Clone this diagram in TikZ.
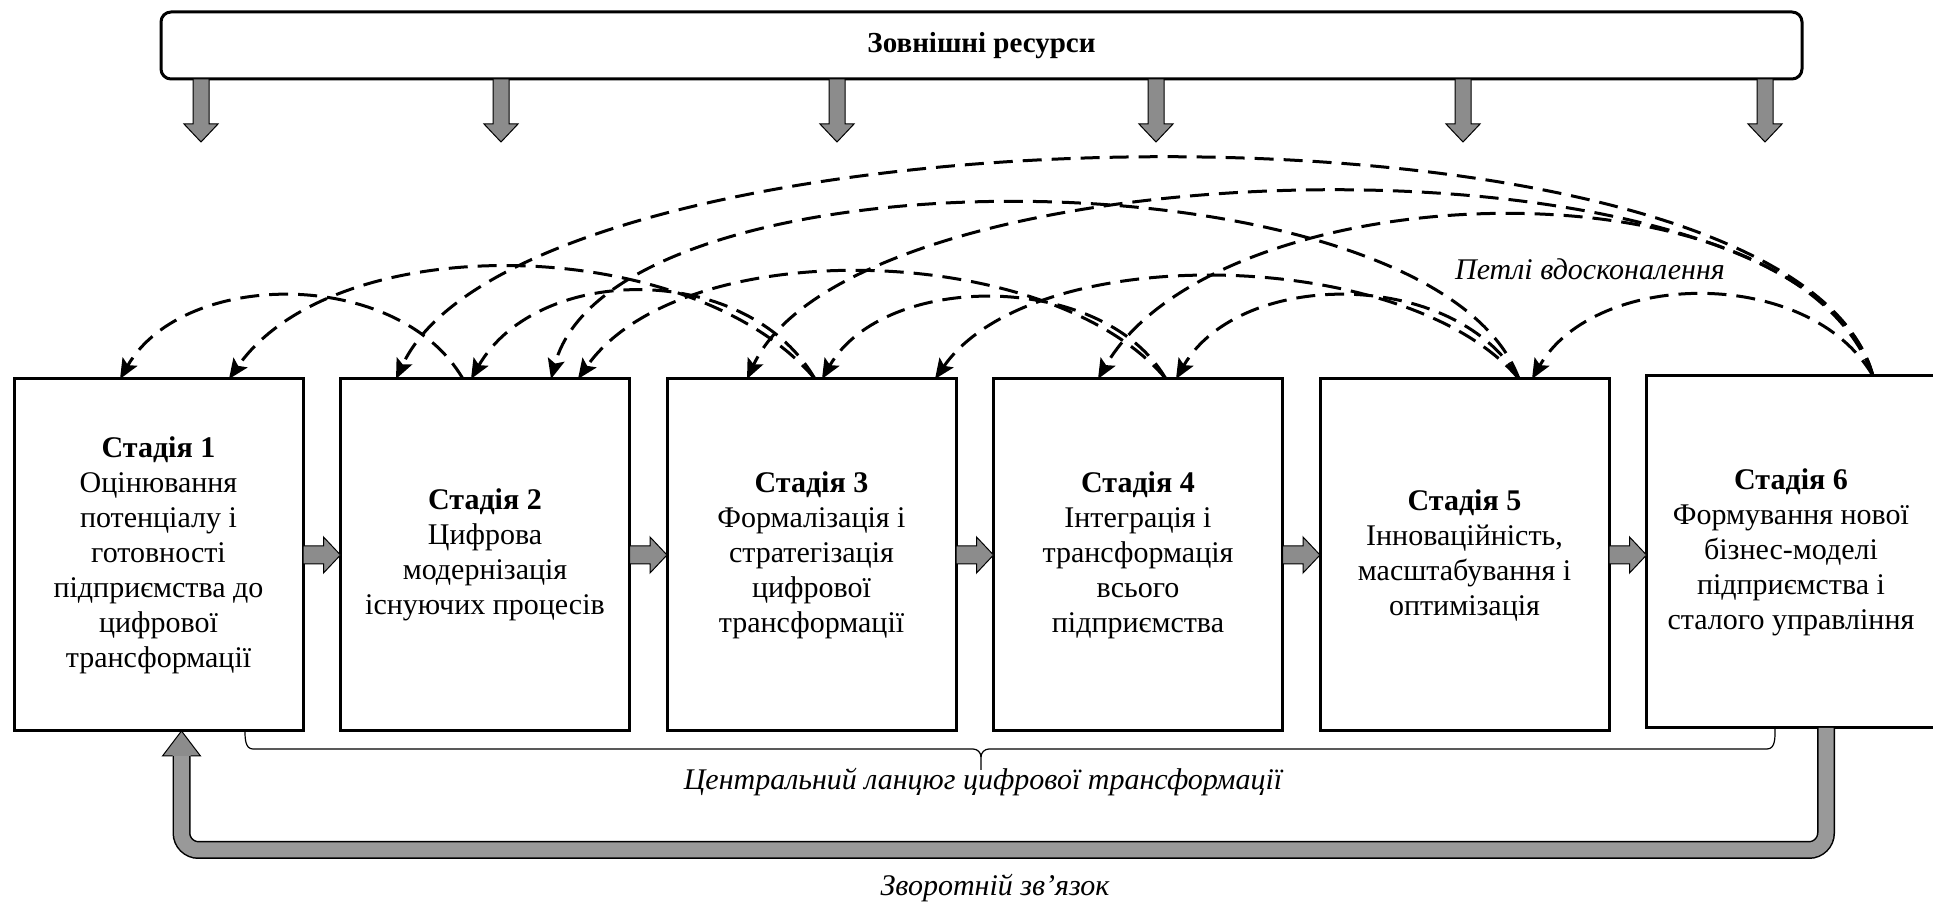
\documentclass[tikz,border=0pt]{standalone}
\usepackage{fontspec}
\setmainfont{Liberation Serif}
\usetikzlibrary{positioning,arrows.meta,calc}

\begin{document}
\begin{tikzpicture}[x=1pt,y=1pt,
    stagenode/.style={rectangle, draw=black, line width=3pt, fill=white, outer sep=0pt, inner sep=0pt,
        minimum width=289pt, minimum height=352pt, align=center, font=\fontsize{30}{35}\selectfont},
    resnode/.style={rectangle, rounded corners=10pt, draw=black, line width=3pt, outer sep=0pt,
        minimum width=1641pt, minimum height=67pt, font=\fontsize{29}{34}\selectfont\bfseries},
    labelnode/.style={inner sep=0pt, font=\fontsize{30}{35}\selectfont\itshape},
    blockarrow/.style={draw=black, line width=1pt, fill=black!45},
    loopline/.style={line width=3pt, dash pattern=on 19pt off 10pt, -{Stealth[length=20pt,width=17pt,inset=4pt]}},
    bandline/.style={line width=15pt, draw=black!40, rounded corners=17pt, preaction={draw=black, line width=18pt}}]

\useasboundingbox (0,0) rectangle (1933,902);

\node[resnode] (res) at (981.5,856.5) {Зовнішні ресурси};

\node[stagenode] (1) at (158.5,347) {\textbf{Стадія 1}\\Оцінювання\\потенціалу і\\готовності\\підприємства до\\цифрової\\трансформації};
\node[stagenode] (2) [right=37.5pt of 1] {\textbf{Стадія 2}\\Цифрова\\модернізація\\існуючих процесів};
\node[stagenode] (3) [right=37.5pt of 2] {\textbf{Стадія 3}\\Формалізація і\\стратегізація\\цифрової\\трансформації};
\node[stagenode] (4) [right=37.5pt of 3] {\textbf{Стадія 4}\\Інтеграція і\\трансформація\\всього\\підприємства};
\node[stagenode] (5) [right=37.5pt of 4] {\textbf{Стадія 5}\\Інноваційність,\\масштабування і\\оптимізація};
\node[stagenode] (6) [right=37.5pt of 5, yshift=3pt] {\textbf{Стадія 6}\\Формування нової\\бізнес-моделі\\підприємства і\\сталого управління};

\foreach \x in {40,340,676,995,1302,1604}
  \draw[blockarrow] ($(res.south west)+(\x-8,0)$) -- ++(0,-45) -- ++(-9,0) -- ++(17,-18) -- ++(17,18) -- ++(-9,0) -- ++(0,45) -- cycle;

\foreach \a/\b in {1/2,2/3,3/4,4/5,5/6}
  \draw[blockarrow] ($(\a.east)+(0,9)$) -- ($(\b.west |- \a.east)+(-17,9)$) -- ++(0,9) -- (\b.west |- \a.east) -- ++(-17,-18) -- ++(0,9) -- ($(\a.east)+(0,-9)$) -- cycle;

\coordinate (s2) at ([xshift=122.5pt]2.north west);
\coordinate (s3) at ([xshift=148pt]3.north west);
\coordinate (s4) at ([xshift=172.5pt]4.north west);
\coordinate (s5) at ([xshift=199pt]5.north west);
\coordinate (s6) at ([xshift=226.5pt]6.north west);

\draw[loopline] (s2) .. controls +(120:128) and +(60:128) .. ([xshift=106pt]1.north west);
\draw[loopline] (s3) .. controls +(130:188) and +(55:188) .. ([xshift=215pt]1.north west);
\draw[loopline] (s3) .. controls +(120:135) and +(60:135) .. ([xshift=130.5pt]2.north west);
\draw[loopline] (s4) .. controls +(130:180) and +(55:180) .. ([xshift=237.5pt]2.north west);
\draw[loopline] (s5) .. controls +(110:246) and +(75:246) .. ([xshift=210.5pt]2.north west);
\draw[loopline] (s6) .. controls +(105:312) and +(65:312) .. ([xshift=55.5pt]2.north west);
\draw[loopline] (s4) .. controls +(120:125) and +(60:125) .. ([xshift=155pt]3.north west);
\draw[loopline] (s5) .. controls +(130:172) and +(55:172) .. ([xshift=268pt]3.north west);
\draw[loopline] (s6) .. controls +(105:265) and +(65:265) .. ([xshift=80pt]3.north west);
\draw[loopline] (s5) .. controls +(120:128) and +(60:128) .. ([xshift=182.5pt]4.north west);
\draw[loopline] (s6) .. controls +(110:240) and +(60:240) .. ([xshift=104.5pt]4.north west);
\draw[loopline] (s6) .. controls +(120:127) and +(60:127) .. ([xshift=212pt]5.north west);

\node[labelnode] (loops) at (1590,633) {Петлі вдосконалення};

\draw[line width=1.2pt] ([xshift=231pt]1.south west) to[out=-90,in=180] ++(8,-18) -- (973,153) to[out=0,in=90] (981,145) -- (981,132);
\draw[line width=1.2pt] (981,145) to[out=90,in=180] (989,153) -- (1767,153) to[out=0,in=-90] ([xshift=128.5pt]6.south west);
\node[labelnode] (chain) at (983,120) {Центральний ланцюг цифрової трансформації};

\coordinate (fbin) at ([xshift=167.5pt]1.south west);
\coordinate (fbout) at ([xshift=179.5pt]6.south west);
\draw[bandline] (fbout) |- ($(fbin)+(0,-119)$) -- ($(fbin)+(0,-25)$);
\filldraw[blockarrow] ($(fbin)+(9,-25)$) -- ($(fbin)+(19,-25)$) -- (fbin) -- ($(fbin)+(-19,-25)$) -- ($(fbin)+(-9,-25)$);
\node[labelnode] (fb) at (995,14) {Зворотній зв’язок};

\end{tikzpicture}
\end{document}
